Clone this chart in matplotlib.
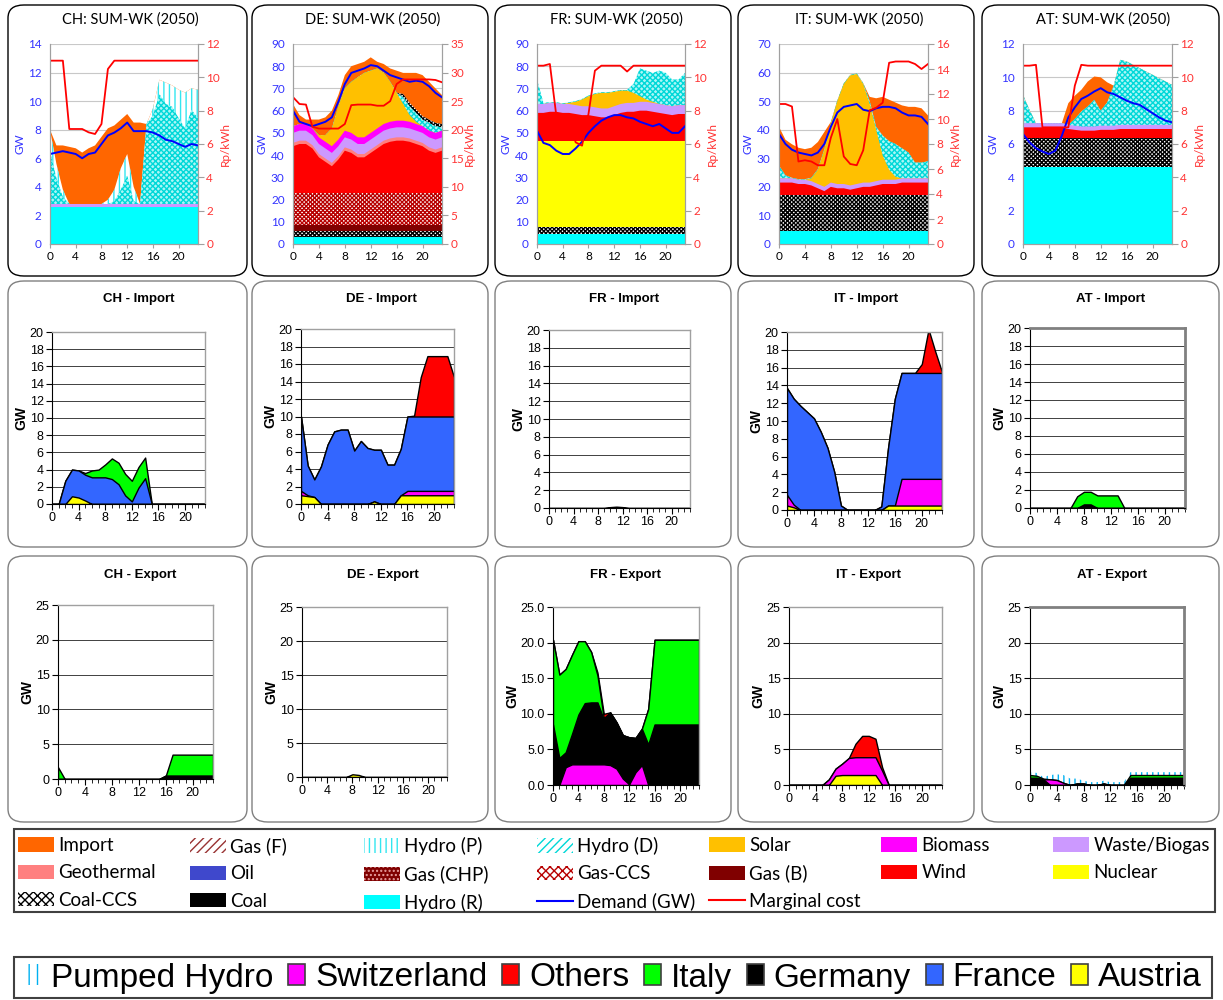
import numpy as np
import matplotlib.pyplot as plt
from matplotlib.patches import FancyBboxPatch, Patch, Rectangle
from matplotlib.lines import Line2D
from matplotlib.ticker import MultipleLocator, FormatStrFormatter

W, H = 1223, 1000
plt.rcParams['hatch.linewidth'] = 1.0
hours = list(range(24))

# ---------------- generation mix (GW per layer, bottom -> top) ----------------
ch_hydro_r = [2.6] * 24
ch_waste = [0.2] * 24
ch_hydro_d = [3.7, 1.8, 0.5, 0, 0, 0, 0, 0, 0, 0, 0.2, 1.0, 2.0, 0.2, 0, 5.6, 6.2, 7.7, 7.0, 6.8, 6.0, 5.3, 6.6, 6.0]
ch_hydro_p = [1.5, 1.0, 0.5, 0, 0, 0, 0, 0, 0, 0.3, 0.8, 1.5, 1.5, 1.0, 0, 0, 0.5, 1.0, 1.5, 1.5, 2.0, 2.5, 1.5, 2.0]
ch_import = [0, 1.3, 3.1, 4.0, 3.9, 3.6, 3.9, 4.1, 4.7, 5.0, 4.5, 3.4, 2.8, 4.5, 5.7, 0, 0, 0, 0, 0, 0, 0, 0, 0]
ch_demand = [6.3, 6.4, 6.5, 6.4, 6.3, 6.0, 6.3, 6.4, 7.0, 7.6, 7.8, 8.1, 8.5, 7.9, 7.9, 7.9, 7.8, 7.6, 7.3, 7.2, 7.0, 6.8, 7.0, 6.9]
ch_cost = [11.0, 11.0, 11.0, 6.9, 6.9, 6.9, 6.7, 6.6, 7.2, 10.5, 11.0, 11.0, 11.0, 11.0, 11.0, 11.0, 11.0, 11.0, 11.0, 11.0, 11.0, 11.0, 11.0, 11.0]

de_hydro_r = [3.0] * 24
de_coal_ccs = [2.8] * 24
de_gas_b = [2.7] * 24
de_gas_ccs = [14.5] * 24
de_wind = [21, 22, 22, 20, 16, 14, 12, 15, 19, 18, 16, 16, 18, 20, 22, 23, 23.5, 23.5, 23, 22, 21, 19, 18, 19]
de_geo = [1.5] * 24
de_waste = [4.5] * 24
de_biomass = [3.0] * 24
de_solar = [0, 0, 0, 0, 1, 3, 8, 15, 19, 23, 27, 29, 28, 27, 23, 18, 12.5, 7.5, 3, 1, 0, 0, 0, 0]
de_hydro_d = [0] * 17 + [3, 4, 4, 3, 3.5, 3, 1.5]
de_peak_ccs = [0] * 17 + [1.5] * 7
de_import = [10, 4, 2, 4, 7, 8, 8, 5, 6, 7, 6, 5, 6, 3, 4, 6, 10, 9.5, 13.5, 16.5, 18.5, 17, 15.5, 13]
de_demand = [60, 55, 54, 53, 54, 55, 57, 64, 72, 77, 78, 79, 80.5, 80, 78, 76, 75, 74, 73, 73.5, 73, 71, 68, 66]
de_cost = [25.7, 24.5, 24.4, 20.5, 20.2, 20.2, 20.2, 20.2, 21.0, 24.3, 24.4, 24.4, 24.4, 24.2, 24.2, 25.0, 28.0, 28.8, 28.8, 28.8, 28.8, 28.8, 28.7, 28.3]

fr_hydro_r = [4.5] * 24
fr_coal_ccs = [3.3] * 24
fr_nuclear = [38.7] * 24
fr_wind = [12.5, 12.5, 13, 13, 12.5, 12.5, 12, 11.5, 11.5, 11, 10.5, 10.5, 11.5, 12.5, 13, 13, 13.5, 13.5, 13, 12.5, 12, 11.5, 12, 12]
fr_waste = [4.0] * 24
fr_solar = [0, 0, 0, 0, 0, 0.5, 1.5, 3, 4.5, 6, 7, 7, 6.5, 6, 5.5, 4.5, 2.5, 1, 0.5, 0, 0, 0, 0, 0]
fr_hydro_d = [11, 0.5, 0.3, 0.3, 0.3, 0.3, 0.3, 0.3, 0.3, 0.3, 0.3, 0.3, 0.3, 0.3, 0.3, 4, 12.5, 13, 13, 15, 14.5, 12, 11.5, 14.5]
fr_demand = [51, 45.5, 44.5, 42, 40.5, 40.5, 43, 46, 50, 53, 55.5, 57, 58, 58, 57, 56.5, 55, 54, 53, 54, 52, 50, 50, 53]
fr_cost = [10.7, 10.7, 10.8, 7.7, 7.7, 7.6, 6.1, 5.9, 7.8, 10.4, 10.7, 10.7, 10.7, 10.7, 10.35, 10.7, 10.7, 10.7, 10.7, 10.7, 10.7, 10.7, 10.7, 10.7]

it_hydro_r = [4.5] * 24
it_coal_ccs = [12.8] * 24
it_wind = [4.2, 4.2, 4.2, 3.7, 3.7, 3.2, 2.2, 1.2, 2.7, 2.2, 2.2, 1.7, 2.2, 2.7, 2.7, 3.2, 3.7, 3.7, 3.7, 4.2, 4.2, 4.2, 4.2, 4.2]
it_waste = [1.5] * 24
it_solar = [0, 0, 0, 0, 0, 1, 5, 13, 20.5, 29, 35, 38.5, 38.5, 34.5, 27.5, 18, 8.5, 3.5, 1, 0, 0, 0, 0, 0]
it_hydro_d = [4.5, 1, 0.2, 0.2, 0.2, 0.2, 0.2, 0.2, 0.2, 0.2, 0.2, 0.2, 0.2, 0.3, 1, 1, 7, 10, 11.5, 10.5, 9, 5.5, 5.5, 6]
it_import = [13.5, 12.5, 11.7, 11, 10.5, 10.5, 9.5, 6, 0.5, 0, 0, 0, 0, 0, 1.5, 10, 13.5, 14.5, 14.5, 15, 16, 19.5, 19, 16]
it_demand = [38.5, 35, 33, 32, 31.5, 31, 32, 35, 41, 46, 48, 48.5, 49, 47, 46.5, 47.5, 48, 48, 47.5, 46, 45, 45, 44.5, 42]
it_cost = [11.2, 11.2, 11.0, 6.6, 6.7, 6.6, 6.3, 6.3, 8.5, 10.0, 7.0, 6.4, 6.3, 7.5, 10.7, 10.9, 11.3, 14.5, 14.6, 14.6, 14.6, 14.4, 14.0, 14.4]

at_hydro_r = [4.6] * 24
at_coal_ccs = [1.75] * 24
at_wind = [0.65] * 7 + [0.55, 0.5, 0.45, 0.45, 0.45, 0.5, 0.5, 0.5, 0.55, 0.55, 0.55, 0.55, 0.55, 0.55, 0.55, 0.55, 0.55]
at_waste = [0.25] * 24
at_hydro_d = [1.7, 0.8, 0, 0, 0, 0, 0, 0, 0.4, 0.9, 1.2, 1.6, 0.9, 1.4, 2.4, 3.9, 3.8, 3.6, 3.4, 3.2, 3.0, 2.8, 2.6, 2.4]
at_import = [0, 0, 0, 0, 0, 0, 0, 1.3, 1.4, 1.3, 1.5, 1.4, 2.0, 1.2, 0, 0, 0, 0, 0, 0, 0, 0, 0, 0]
at_demand = [6.6, 6.1, 5.75, 5.55, 5.4, 5.6, 6.5, 7.6, 8.2, 8.7, 8.9, 9.15, 9.35, 9.1, 9.0, 8.8, 8.6, 8.45, 8.35, 8.1, 7.85, 7.6, 7.4, 7.3]
at_cost = [10.7, 10.7, 10.75, 7.0, 7.0, 7.0, 7.0, 7.0, 9.5, 10.75, 10.7, 10.7, 10.7, 10.7, 10.7, 10.7, 10.7, 10.7, 10.7, 10.7, 10.7, 10.7, 10.7, 10.7]

# ---------------- imports (GW per partner, stacked) ----------------
ch_imp_austria = [0, 0, 0, 0.9, 0.75, 0.4] + [0] * 18
ch_imp_france = [0, 0, 2.7, 3.1, 3.15, 3.0, 3.1, 3.1, 3.1, 2.9, 2.3, 1.0, 0.3, 1.9, 3.0] + [0] * 9
ch_imp_italy = [0, 0, 0, 0, 0, 0.2, 0.8, 0.9, 1.5, 2.4, 2.5, 2.5, 2.4, 2.4, 2.4] + [0] * 9

de_imp_austria = [1.0, 0.9, 0.8, 0, 0, 0, 0, 0, 0, 0, 0, 0.3, 0, 0, 0] + [1.0] * 9
de_imp_swiss = [0.5, 0.1] + [0] * 14 + [0.5] * 8
de_imp_france = [8.5, 3.4, 2.0, 4.3, 6.8, 8.3, 8.5, 8.5, 6.1, 7.2, 6.4, 5.9, 6.2, 4.5, 4.5, 5.3, 8.5, 8.5, 8.5, 8.5, 8.5, 8.5, 8.5, 8.5]
de_imp_others = [0] * 17 + [0.1, 4.5, 6.9, 6.9, 6.9, 6.9, 4.5]

fr_imp_italy = [0] * 10 + [0.1, 0.15, 0.1] + [0] * 11

it_imp_austria = [0.5, 0.3] + [0] * 13 + [0.5] * 9
it_imp_swiss = [1.2, 0.3] + [0] * 15 + [3.0] * 7
it_imp_france = [12.0, 11.9, 11.7, 11.0, 10.3, 8.8, 7.0, 4.3, 0.5, 0, 0, 0, 0, 0, 0.4, 6.5, 12.0, 11.9, 11.9, 11.9, 11.9, 11.9, 11.9, 11.9]
it_imp_others = [0] * 19 + [0, 1.0, 4.9, 2.4, 0.1]

at_imp_germany = [0] * 8 + [0.4, 0.4] + [0] * 14
at_imp_italy = [0] * 7 + [1.3, 1.4, 1.4, 1.4, 1.4, 1.4, 1.4, 0] + [0] * 9

# ---------------- exports (GW per partner, stacked) ----------------
ch_exp_germany = [0] * 16 + [0.5] * 8
ch_exp_italy = [1.7] + [0] * 15 + [0] + [3.0] * 7

de_exp_austria = [0] * 8 + [0.4, 0.3] + [0] * 14

fr_exp_swiss = [0, 0, 2.5, 2.9, 2.9, 2.9, 2.9, 2.9, 2.9, 2.8, 2.3, 0.9, 0.1, 1.8, 2.8, 0] + [0] * 8
fr_exp_germany = [8.5, 3.8, 2.1, 4.3, 7.0, 8.6, 8.7, 8.7, 6.3, 7.4, 6.5, 6.1, 6.6, 4.8, 5.1, 5.7] + [8.5] * 8
fr_exp_italy = [11.9, 11.7, 11.7, 11.1, 10.3, 8.7, 7.1, 3.8, 0.2, 0, 0, 0, 0, 0, 0, 5.0] + [11.9] * 8
fr_exp_others = [0] * 7 + [0.4, 0.6] + [0] * 15

it_exp_austria = [0] * 7 + [1.3, 1.4, 1.4, 1.4, 1.4, 1.4, 1.4, 0] + [0] * 9
it_exp_swiss = [0] * 6 + [0.8, 1.0, 1.6, 2.4, 2.5, 2.5, 2.5, 2.5, 2.0, 0] + [0] * 8
it_exp_others = [0] * 9 + [0, 1.9, 3.0, 3.0, 2.6, 0.5, 0] + [0] * 8

at_exp_germany = [1.0, 1.0, 0.8, 0, 0, 0, 0, 0.2, 0.2, 0, 0, 0.2, 0, 0, 0] + [1.0] * 9
at_exp_swiss = [0, 0, 0, 0.8, 0.7, 0.3] + [0] * 18
at_exp_italy = [0.4, 0.3, 0.1] + [0] * 12 + [0.4] * 9
at_exp_pumped = [0.4, 0.4, 0.2, 0.6, 0.8, 1.1, 0.9, 0.7] + [0.4] * 16

# ---------------- styles ----------------
GEN_STYLE = {
    'Import': ('#ff6600', None, None),
    'Gas (F)': ('white', '////', '#993333'),
    'Hydro (P)': ('white', '|||', '#33e6f0'),
    'Hydro (D)': ('#aaf6f6', 'xxxxxx', '#00d8d8'),
    'Solar': ('#ffc000', None, None),
    'Biomass': ('#ff00ff', None, None),
    'Waste/Biogas': ('#cc99ff', None, None),
    'Geothermal': ('#ff8080', None, None),
    'Oil': ('#3f48cc', None, None),
    'Gas (CHP)': ('#800000', '....', '#e8a0a0'),
    'Gas-CCS': ('white', 'xxxxxxxx', '#b80000'),
    'Gas (B)': ('#800000', None, None),
    'Wind': ('#ff0000', None, None),
    'Nuclear': ('#ffff00', None, None),
    'Coal-CCS': ('white', 'xxxxxxxx', 'black'),
    'Coal': ('black', None, None),
    'Hydro (R)': ('#00ffff', None, None),
}
LEG_HATCH = {'Hydro (D)': '////', 'Gas-CCS': 'xxxx', 'Coal-CCS': 'xxxx'}
FLOW_COLORS = {'Austria': '#ffff00', 'Switzerland': '#ff00ff', 'Germany': '#000000',
               'France': '#3366ff', 'Italy': '#00ff00', 'Others': '#ff0000'}

TOP_FONT = 'Lato'
ARIAL = 'Liberation Sans'

fig = plt.figure(figsize=(W / 100, H / 100), dpi=100)


def px_rect(l, r, t, b):
    return [l / W, 1 - b / H, (r - l) / W, (b - t) / H]


# rounded panel boxes
box_cols = [(8, 247), (252, 488), (495, 731), (738, 974), (982, 1219)]
box_rows = [(5, 276, 'black'), (281, 547, '#808080'), (556, 822, '#808080')]
for t, b, ec in box_rows:
    for l, r in box_cols:
        fig.add_artist(FancyBboxPatch((l / W, 1 - b / H), (r - l) / W, (b - t) / H,
                                      boxstyle='round,pad=0,rounding_size=0.013',
                                      transform=fig.transFigure, facecolor='white',
                                      edgecolor=ec, linewidth=1.0, zorder=-5))


def gen_panel(box, layers, demand, cost, gmax, gstep, cmax, cstep):
    l, r, t, b = box
    ax = fig.add_axes(px_rect(l, r, t, b))
    tops = np.cumsum([v for _, v in layers], axis=0)
    # paint from the top layer down so adjacent layers have no seams
    for (key, _), top in reversed(list(zip(layers, tops))):
        fc, hatch, hc = GEN_STYLE[key]
        if hatch:
            ax.fill_between(hours, 0, top, facecolor=fc, edgecolor=hc, hatch=hatch, linewidth=0)
        else:
            ax.fill_between(hours, 0, top, facecolor=fc, linewidth=0)
    ax.plot(hours, demand, color='#0000ff', lw=1.4, zorder=5)
    ax.set_xlim(0, 23)
    ax.set_ylim(0, gmax)
    ax.xaxis.set_major_locator(MultipleLocator(4))
    ax.yaxis.set_major_locator(MultipleLocator(gstep))
    ax.grid(axis='y', color='#c8c8c8', lw=0.8)
    ax.set_axisbelow(True)
    ax.tick_params(axis='y', length=0, labelsize=8.5, labelcolor='#3333ff', pad=6)
    ax.tick_params(axis='x', length=3, color='#a0a0a0', labelsize=8.5, pad=2)
    for lab in ax.get_xticklabels() + ax.get_yticklabels():
        lab.set_family(TOP_FONT)
    ax.set_ylabel('GW', color='#3333ff', fontsize=8.5, family=TOP_FONT)
    ax.yaxis.set_label_coords(-25 / (r - l), 0.5)

    ax2 = ax.twinx()
    ax2.plot(hours, cost, color='#ff0000', lw=1.3)
    ax2.set_ylim(0, cmax)
    ax2.yaxis.set_major_locator(MultipleLocator(cstep))
    ax2.tick_params(axis='y', length=4, color='#a0a0a0', labelsize=8.5, labelcolor='#ff3333', pad=2)
    for lab in ax2.get_yticklabels():
        lab.set_family(TOP_FONT)
    ax2.set_ylabel('Rp/kWh', color='#ff3333', fontsize=8.5, family=TOP_FONT)
    ax2.yaxis.set_label_coords(1 + 22 / (r - l), 0.5)
    for a in (ax, ax2):
        for s in a.spines.values():
            s.set_color('#a0a0a0')
        a.spines['top'].set_visible(False)
    return ax


def flow_panel(box, title_y, title_x, title, layers, ymax, ystep, fmt=None, heavy=False):
    l, r, t, b = box
    ax = fig.add_axes(px_rect(l, r, t, b))
    tops = np.cumsum([v for _, v in layers], axis=0)
    for (name, _), top in reversed(list(zip(layers, tops))):
        if name == 'Pumped Hydro':
            ax.fill_between(hours, 0, top, facecolor='white', edgecolor='#00b0f0',
                            hatch='|||', linewidth=0)
        else:
            ax.fill_between(hours, 0, top, facecolor=FLOW_COLORS[name],
                            edgecolor='black', linewidth=1.0)
    ax.set_xlim(0, 23)
    ax.set_ylim(0, ymax)
    ax.xaxis.set_major_locator(MultipleLocator(4))
    ax.xaxis.set_minor_locator(MultipleLocator(1))
    ax.yaxis.set_major_locator(MultipleLocator(ystep))
    if fmt:
        ax.yaxis.set_major_formatter(FormatStrFormatter(fmt))
    ax.grid(axis='y', color='#404040', lw=0.7)
    ax.set_axisbelow(True)
    ax.tick_params(which='both', direction='out', color='black', labelsize=9, pad=2)
    ax.tick_params(which='major', length=4)
    ax.tick_params(which='minor', length=3)
    for lab in ax.get_xticklabels() + ax.get_yticklabels():
        lab.set_family(ARIAL)
    ax.spines['left'].set_color('black')
    ax.spines['bottom'].set_color('black')
    for s in ('top', 'right'):
        ax.spines[s].set_color('#808080' if heavy else '#a0a0a0')
        ax.spines[s].set_linewidth(2.0 if heavy else 1.0)
    # sits just left of the tick labels
    ax.set_ylabel('GW', fontsize=10, fontweight='bold', family=ARIAL, labelpad=1)
    fig.text(title_x / W, 1 - title_y / H, title, ha='center', va='center',
             fontsize=9.5, fontweight='bold', family=ARIAL)


gen_boxes = [(50, 198, 44, 244), (293, 442, 44, 244), (537, 685, 44, 244),
             (779, 928, 44, 244), (1023, 1172, 44, 244)]
gen_panel(gen_boxes[0],
          [('Hydro (R)', ch_hydro_r), ('Waste/Biogas', ch_waste), ('Hydro (D)', ch_hydro_d),
           ('Hydro (P)', ch_hydro_p), ('Import', ch_import)],
          ch_demand, ch_cost, 14, 2, 12, 2)
gen_panel(gen_boxes[1],
          [('Hydro (R)', de_hydro_r), ('Coal-CCS', de_coal_ccs), ('Gas (B)', de_gas_b),
           ('Gas-CCS', de_gas_ccs), ('Wind', de_wind), ('Geothermal', de_geo),
           ('Waste/Biogas', de_waste), ('Biomass', de_biomass), ('Solar', de_solar),
           ('Hydro (D)', de_hydro_d), ('Coal-CCS', de_peak_ccs), ('Import', de_import)],
          de_demand, de_cost, 90, 10, 35, 5)
gen_panel(gen_boxes[2],
          [('Hydro (R)', fr_hydro_r), ('Coal-CCS', fr_coal_ccs), ('Nuclear', fr_nuclear),
           ('Wind', fr_wind), ('Waste/Biogas', fr_waste), ('Solar', fr_solar),
           ('Hydro (D)', fr_hydro_d)],
          fr_demand, fr_cost, 90, 10, 12, 2)
gen_panel(gen_boxes[3],
          [('Hydro (R)', it_hydro_r), ('Coal-CCS', it_coal_ccs), ('Wind', it_wind),
           ('Waste/Biogas', it_waste), ('Solar', it_solar), ('Hydro (D)', it_hydro_d),
           ('Import', it_import)],
          it_demand, it_cost, 70, 10, 16, 2)
gen_panel(gen_boxes[4],
          [('Hydro (R)', at_hydro_r), ('Coal-CCS', at_coal_ccs), ('Wind', at_wind),
           ('Waste/Biogas', at_waste), ('Hydro (D)', at_hydro_d), ('Import', at_import)],
          at_demand, at_cost, 12, 2, 12, 2)
for (l, r), code in zip(box_cols, ['CH', 'DE', 'FR', 'IT', 'AT']):
    fig.text((l + r) / 2 / W + 3 / W, 1 - 20 / H, f'{code}: SUM-WK (2050)',
             ha='center', va='center', fontsize=10.5, family=TOP_FONT)

# import row
flow_panel((52, 205, 332, 504), 299, 139, 'CH - Import',
           [('Austria', ch_imp_austria), ('France', ch_imp_france), ('Italy', ch_imp_italy)], 20, 2)
flow_panel((301, 454, 329, 504), 299, 381, 'DE - Import',
           [('Austria', de_imp_austria), ('Switzerland', de_imp_swiss),
            ('France', de_imp_france), ('Others', de_imp_others)], 20, 2)
flow_panel((549, 690, 330, 508), 299, 624, 'FR - Import',
           [('Italy', fr_imp_italy)], 20, 2)
flow_panel((787, 942, 332, 510), 299, 866, 'IT - Import',
           [('Austria', it_imp_austria), ('Switzerland', it_imp_swiss),
            ('France', it_imp_france), ('Others', it_imp_others)], 20, 2)
flow_panel((1030, 1185, 328, 508), 299, 1111, 'AT - Import',
           [('Germany', at_imp_germany), ('Italy', at_imp_italy)], 20, 2, heavy=True)

# export row
flow_panel((58, 213, 605, 779), 575, 140, 'CH - Export',
           [('Germany', ch_exp_germany), ('Italy', ch_exp_italy)], 25, 5)
flow_panel((302, 447, 607, 777), 575, 383, 'DE - Export',
           [('Austria', de_exp_austria)], 25, 5)
flow_panel((553, 699, 607, 785), 575, 626, 'FR - Export',
           [('Switzerland', fr_exp_swiss), ('Germany', fr_exp_germany),
            ('Italy', fr_exp_italy), ('Others', fr_exp_others)], 25, 5, fmt='%.1f')
flow_panel((789, 942, 607, 785), 575, 868, 'IT - Export',
           [('Austria', it_exp_austria), ('Switzerland', it_exp_swiss),
            ('Others', it_exp_others)], 25, 5)
flow_panel((1030, 1184, 607, 785), 575, 1112, 'AT - Export',
           [('Germany', at_exp_germany), ('Switzerland', at_exp_swiss),
            ('Italy', at_exp_italy), ('Pumped Hydro', at_exp_pumped)], 25, 5, heavy=True)

# ---------------- legend 1 (technologies) ----------------
leg_rows = [
    ['Import', 'Gas (F)', 'Hydro (P)', 'Hydro (D)', 'Solar', 'Biomass', 'Waste/Biogas'],
    ['Geothermal', 'Oil', 'Gas (CHP)', 'Gas-CCS', 'Gas (B)', 'Wind', 'Nuclear'],
    ['Coal-CCS', 'Coal', 'Hydro (R)', 'Demand (GW)', 'Marginal cost'],
]
leg_x = [18, 190, 364, 537, 709, 881, 1053]
fig.add_artist(Rectangle((14 / W, 1 - 912 / H), 1201 / W, 83 / H, transform=fig.transFigure,
                         facecolor='none', edgecolor='#404040', linewidth=1.5))


def tech_handle(name):
    if name == 'Demand (GW)':
        return Line2D([], [], color='#0000ff', lw=1.5)
    if name == 'Marginal cost':
        return Line2D([], [], color='#ff0000', lw=1.5)
    fc, hatch, hc = GEN_STYLE[name]
    if hatch:
        return Patch(facecolor='white' if name == 'Hydro (D)' else fc, edgecolor=hc,
                     hatch=LEG_HATCH.get(name, hatch), linewidth=0)
    return Patch(facecolor=fc, edgecolor=fc, linewidth=0)


for j, x in enumerate(leg_x):
    names = [row[j] for row in leg_rows if j < len(row)]
    fig.legend([tech_handle(n) for n in names], names, loc='upper left',
               bbox_to_anchor=(x / W, 1 - 837 / H), frameon=False, borderpad=0,
               borderaxespad=0, handlelength=1.9, handleheight=0.8, handletextpad=0.25,
               labelspacing=0.55, prop={'family': TOP_FONT, 'size': 13.5})

# ---------------- legend 2 (trade partners) ----------------
partners = ['Pumped Hydro', 'Switzerland', 'Others', 'Italy', 'Germany', 'France', 'Austria']
p_handles = [Patch(facecolor='white', edgecolor='#00b0f0', hatch='||', linewidth=0)]
p_handles += [Patch(facecolor=FLOW_COLORS[p], edgecolor='#404040', linewidth=1.2) for p in partners[1:]]
fig.add_artist(Rectangle((14 / W, 1 - 998 / H), 1198 / W, 41 / H, transform=fig.transFigure,
                         facecolor='none', edgecolor='#404040', linewidth=1.5))
fig.legend(p_handles, partners, loc='center', bbox_to_anchor=(613 / W, 1 - 978 / H), ncol=7,
           frameon=False, handlelength=0.5, handleheight=0.6, handletextpad=0.3,
           columnspacing=0.45, borderpad=0, prop={'family': ARIAL, 'size': 24})

fig.savefig('out.png', dpi=100)
